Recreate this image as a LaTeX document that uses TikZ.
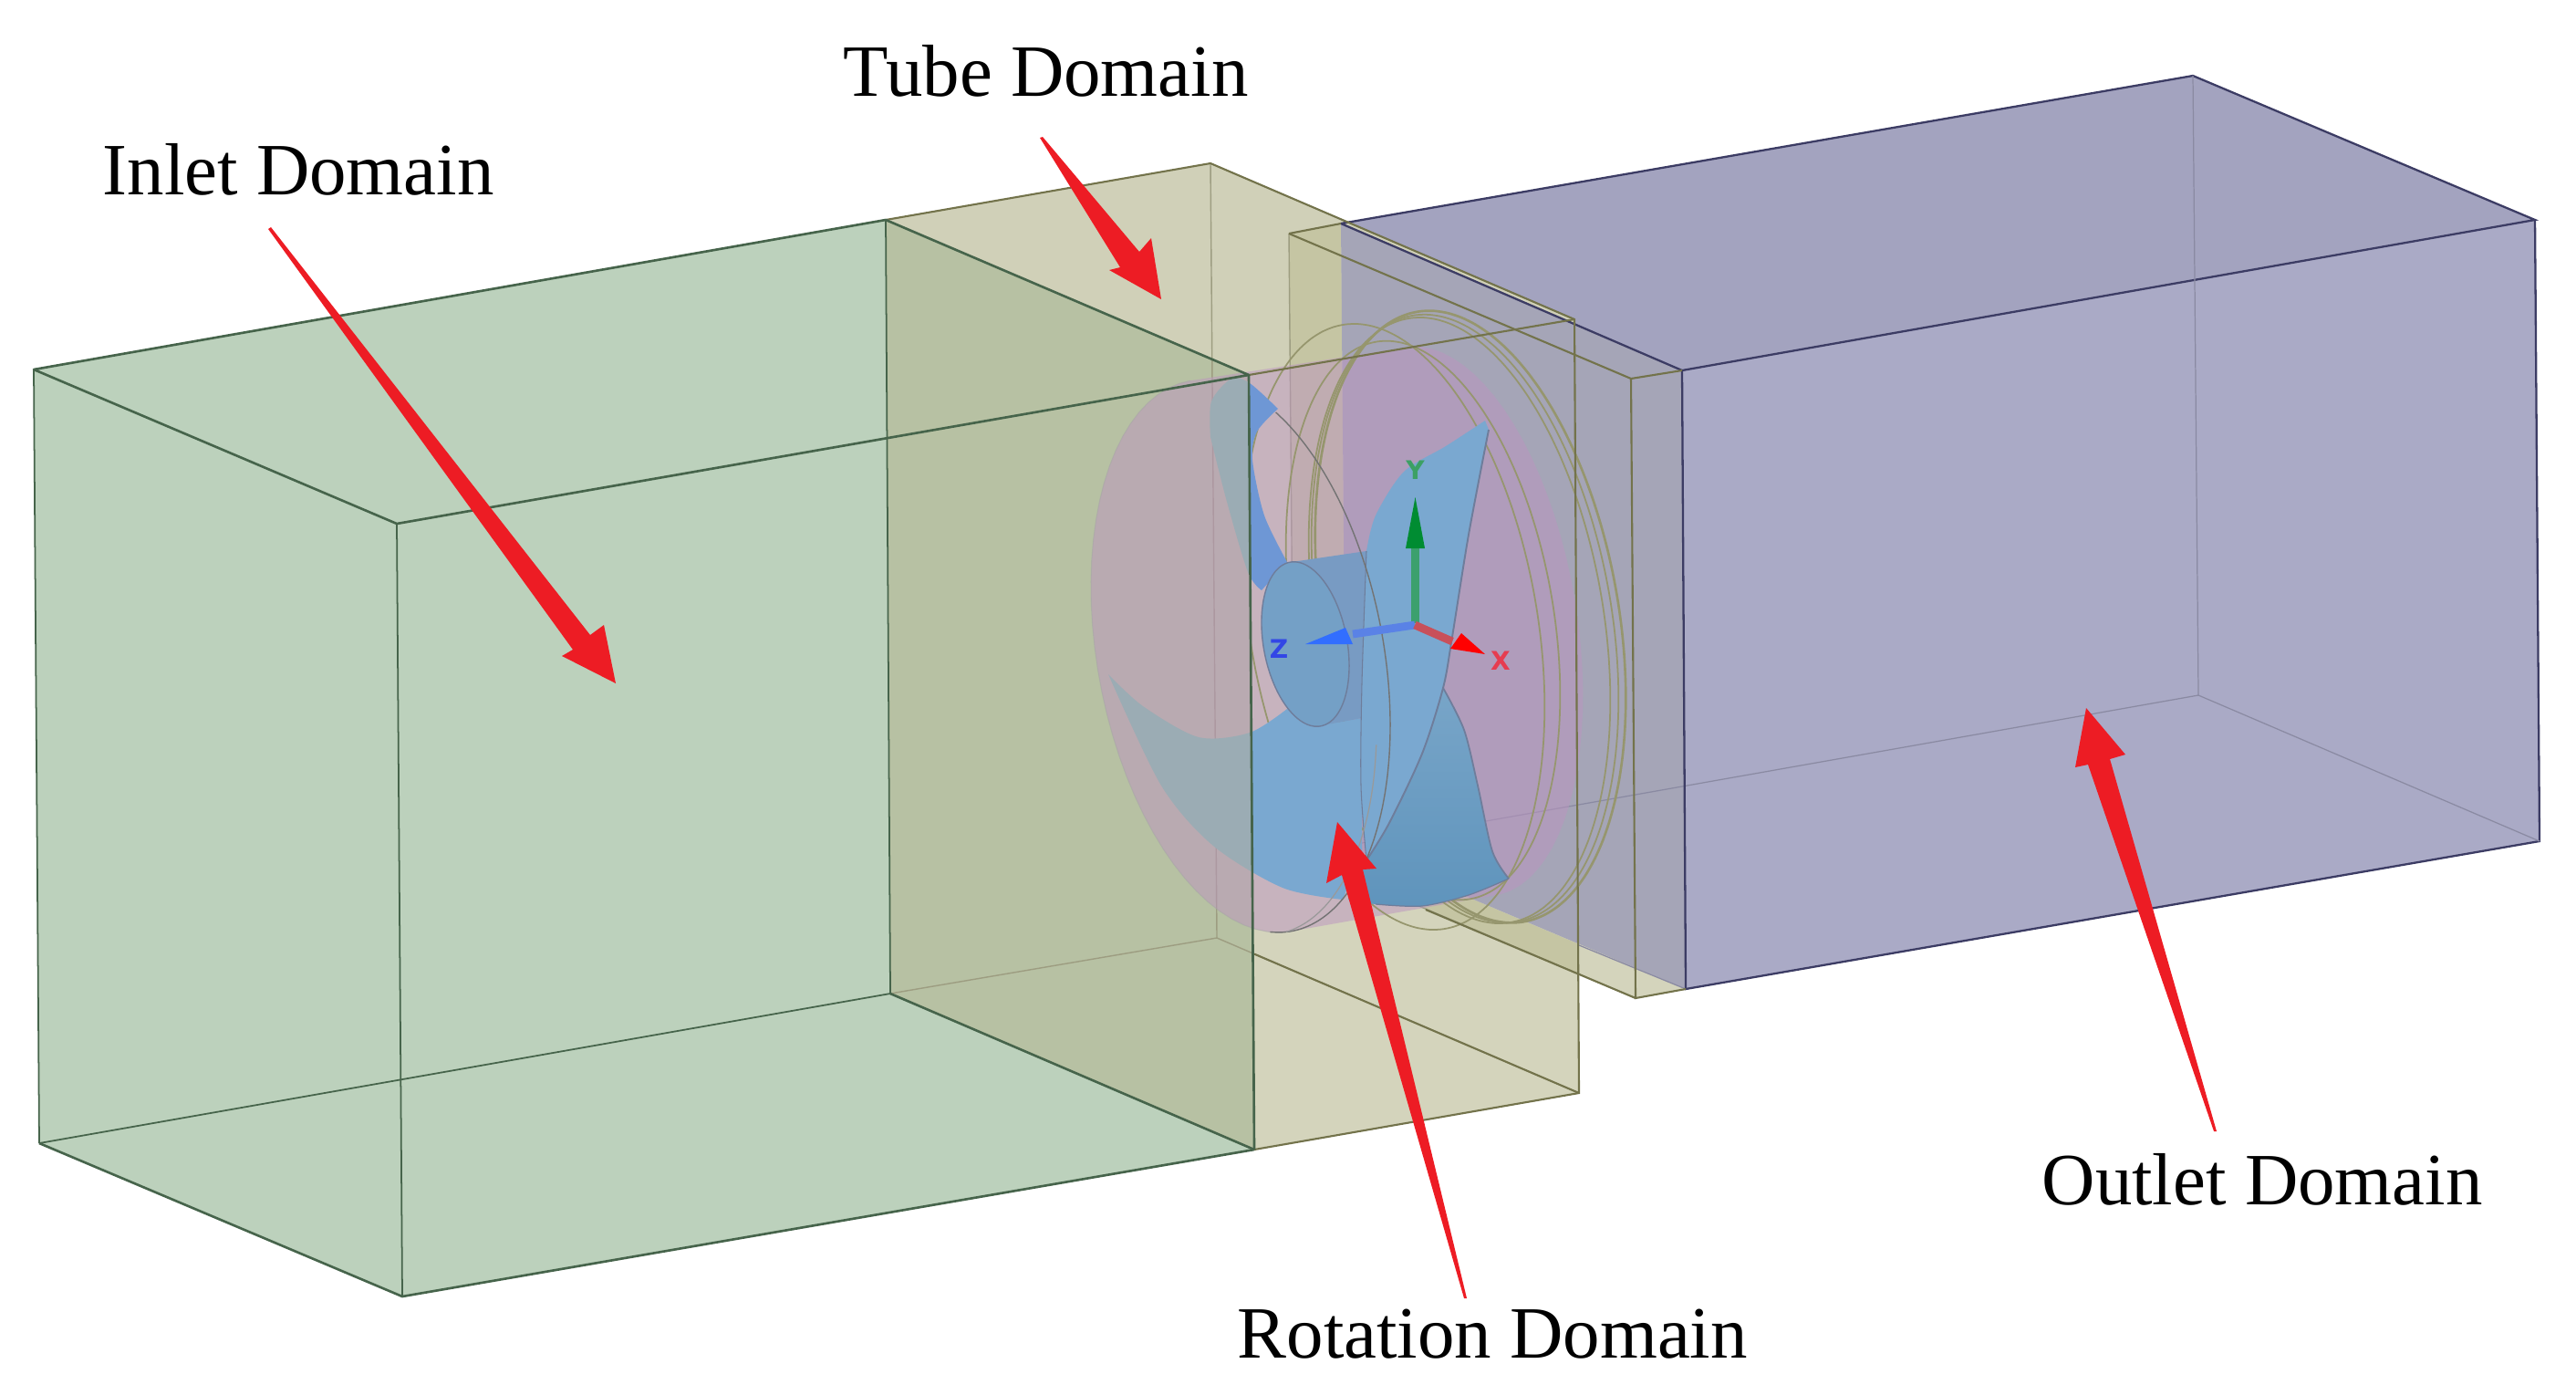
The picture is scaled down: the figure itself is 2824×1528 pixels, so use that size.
\documentclass[tikz,border=0pt]{standalone}
\usepackage{fontspec}
\setmainfont{Liberation Serif}
\setsansfont{DejaVu Sans}
\definecolor{inF}{RGB}{188,209,188}
\definecolor{inT}{RGB}{183,193,163}
\definecolor{tuF}{RGB}{212,212,188}
\definecolor{tuTop}{RGB}{208,208,184}
\definecolor{tuR}{RGB}{197,197,163}
\definecolor{ouF}{RGB}{170,170,198}
\definecolor{ouB}{RGB}{163,163,191}
\definecolor{ouR}{RGB}{165,165,183}
\definecolor{inL}{RGB}{70,100,75}
\definecolor{tuL}{RGB}{115,115,75}
\definecolor{ouL}{RGB}{60,60,100}
\definecolor{ringL}{RGB}{150,150,110}
\definecolor{pinkF}{RGB}{188,148,192}
\definecolor{bladeB}{RGB}{122,168,208}
\definecolor{bladeT}{RGB}{120,165,200}
\definecolor{bladeD}{RGB}{95,148,188}
\definecolor{bladeG}{RGB}{155,172,180}
\definecolor{hubS}{RGB}{120,155,195}
\definecolor{bladeL}{RGB}{110,125,155}
\definecolor{arrowR}{RGB}{237,28,36}
\definecolor{axYs}{RGB}{60,160,110}
\definecolor{axYc}{RGB}{0,140,50}
\definecolor{axZs}{RGB}{90,130,230}
\definecolor{axZc}{RGB}{50,110,255}
\definecolor{axXs}{RGB}{200,80,90}
\definecolor{axYt}{RGB}{60,160,100}
\definecolor{axZt}{RGB}{50,70,230}
\definecolor{axXt}{RGB}{230,60,80}
\tikzset{
  inEdge/.style={draw=inL,line width=.75pt,line join=round},
  inEdgeF/.style={draw=inL,line width=.5pt},
  tuEdge/.style={draw=tuL,line width=.6pt},
  tuEdgeF/.style={draw=tuL!70,line width=.4pt},
  ouEdge/.style={draw=ouL,line width=.65pt},
  ouEdgeF/.style={draw=ouL!60,line width=.35pt},
  ringLine/.style={draw=ringL,line width=.5pt},
  redArrow/.style={fill=arrowR,draw=none},
  domainLabel/.style={anchor=base west,inner sep=0pt,font=\fontsize{23}{24}\selectfont},
  axisLabel/.style={inner sep=0pt,font=\sffamily\bfseries\fontsize{8}{8}\selectfont},
}
\newcommand{\ellipseplot}[7][]{\draw[#1] plot[smooth cycle,domain=0:355,samples=72,variable=\t]
  ({#2+#4*cos(\t)+#6*sin(\t)},{#3+#5*cos(\t)+#7*sin(\t)});}
\newcommand{\bladeCpath}{plot[smooth] coordinates {(1215,739) (1253,774) (1314,808) (1370,803) (1411,777)}
  -- (1447,795) -- (1493,787) -- (1493,933) -- (1472,986)
  -- plot[smooth] coordinates {(1472,986) (1406,973) (1330,927) (1273,861) (1215,739)} -- cycle}
\newcommand{\bladeDpath}{plot[smooth] coordinates {(1327,479) (1328,440) (1350,415) (1370,420) (1401,448)}
  -- plot[smooth] coordinates {(1401,448) (1378,473) (1373,504) (1386,565) (1411,616)}
  -- (1383,647) -- plot[smooth] coordinates {(1383,647) (1368,627) (1345,550) (1327,479)} -- cycle}
\begin{document}
\begin{tikzpicture}[x=0.1mm,y=-0.1mm]
\useasboundingbox (0,0) rectangle (2824,1528);
% corners
\coordinate (iA) at (37,405); \coordinate (iB) at (971,241); \coordinate (iC) at (1369,411); \coordinate (iD) at (435,574);
\coordinate (iE) at (43,1253); \coordinate (iF) at (976,1089); \coordinate (iG) at (1375,1260); \coordinate (iH) at (441,1421);
\coordinate (tB) at (1327,179); \coordinate (tC) at (1726,350); \coordinate (tF) at (1334,1028); \coordinate (tG) at (1731,1198);
\coordinate (oA) at (1470,245); \coordinate (oB) at (2404,83); \coordinate (oC) at (2779,241); \coordinate (oD) at (1844,406);
\coordinate (oE) at (1476,927); \coordinate (oF) at (2410,762); \coordinate (oG) at (2784,922); \coordinate (oH) at (1848,1084);
\coordinate (rA) at (1413,256); \coordinate (rD) at (1788,415); \coordinate (rE) at (1419,935); \coordinate (rH) at (1793,1094);
% outlet
\fill[ouB] (oA)--(oB)--(oC)--(oG)--(oH)--(oE)--cycle;
\fill[ouF] (oD)--(oC)--(oG)--(oH)--cycle;
% rotation box and tube
\fill[tuF] (rA)--(oA)--(oD)--(oH)--(rH)--(rE)--cycle;
\fill[tuF] (iB)--(tB)--(tC)--(tG)--(iG)--(iF)--cycle;
\fill[tuTop] (iB)--(tB)--(tC)--(iC)--cycle;
\fill[tuR] (rA)--(oA)--(oE)--(1731,1035)--(1731,1068)--(rE)--cycle;
\fill[ouR] (oA)--(oD)--(oH)--(oE)--cycle;
% inlet
\fill[inF] (iA)--(iB)--(iC)--(iG)--(iH)--(iE)--cycle;
\fill[inT] (iB)--(iC)--(iG)--(iF)--cycle;
% hidden edges, seen through the cylinder
\draw[ouEdgeF] (oE)--(oF);
\draw[tuEdgeF] (rA)--(rE);
\draw[tuEdgeF] (rE)--(rH);
\draw[tuEdgeF] (tB)--(tF);
\draw[tuEdgeF] (iF)--(tF);
\draw[tuEdgeF] (tF)--(tG);
% rotation cylinder
\fill[pinkF,fill opacity=.5]
  plot[domain=71.7:251.7,samples=40,variable=\t] ({1360+164*cos(\t)+4*sin(\t)},{719+69*cos(\t)+295*sin(\t)})
  -- plot[domain=251.7:431.7,samples=40,variable=\t] ({1590+145*cos(\t)+10*sin(\t)},{681+61*cos(\t)+295*sin(\t)})
  -- cycle;
\draw[draw=black!35,draw opacity=.5,line width=.3pt]
  plot[domain=71.7:251.7,samples=40,variable=\t] ({1360+164*cos(\t)+4*sin(\t)},{719+69*cos(\t)+295*sin(\t)});
% rings
\begin{scope}
\clip (1369,300)--(1900,300)--(1900,1100)--(1374,1100)--cycle;
\ellipseplot[ringLine]{1528}{687}{165}{68}{10}{325}
\ellipseplot[ringLine]{1560}{680}{150}{62}{10}{300}
\ellipseplot[ringLine]{1600}{680}{165}{68}{10}{325}
\ellipseplot[ringLine,line width=.75pt]{1612}{676}{170}{70}{10}{328}
\ellipseplot[ringLine]{1606}{678}{168}{69}{10}{326}
\end{scope}
% blades
\shade[top color=bladeT,bottom color=bladeD] (1498,943)
  -- plot[smooth] coordinates {(1582,754) (1605,800) (1620,861) (1636,933) (1654,963)}
  -- plot[smooth] coordinates {(1654,963) (1610,981) (1559,993) (1508,991) (1478,986)} -- cycle;
\draw[bladeL,line width=.5pt] plot[smooth] coordinates {(1582,754) (1605,800) (1620,861) (1636,933) (1654,963)};
\draw[bladeL,line width=.35pt] plot[smooth] coordinates {(1654,963) (1610,981) (1559,993) (1508,991)};
\begin{scope}
  \clip (1369,300)--(1800,300)--(1800,1300)--(1375,1300)--cycle;
  \fill[bladeB] \bladeCpath;
  \fill[bladeB!90!blue] \bladeDpath;
\end{scope}
\begin{scope}
  \clip (1000,300)--(1369,300)--(1375,1300)--(1000,1300)--cycle;
  \fill[bladeG] \bladeCpath;
  \fill[bladeG] \bladeDpath;
\end{scope}
\fill[hubS] (1416,616)--(1498,604)--(1493,787)--(1444,796)--cycle;
\fill[bladeB]
  plot[smooth] coordinates {(1498,604) (1508,565) (1539,517) (1585,489) (1628,461)} -- (1632,471)
  -- plot[smooth] coordinates {(1632,471) (1610,586) (1592,698) (1582,754) (1559,826) (1523,902) (1498,943)}
  -- plot[smooth] coordinates {(1498,943) (1492,861) (1493,749) (1498,604)} -- cycle;
\draw[bladeL,line width=.55pt] plot[smooth] coordinates {(1632,471) (1610,586) (1592,698) (1582,754) (1559,826) (1523,902) (1498,943)};
\draw[bladeL,line width=.3pt] plot[smooth] coordinates {(1498,943) (1492,861) (1493,749) (1498,604)};
\ellipseplot[fill=bladeB!95!black,draw=bladeL,line width=.4pt]{1431}{706}{48}{20}{2}{88}
% front rim arc
\draw[draw=black!55,line width=.4pt] plot[smooth,domain=-75:80,samples=40,variable=\t]
  ({1360+164*cos(\t)+4*sin(\t)},{719+69*cos(\t)+295*sin(\t)});
\draw[draw=black!40,line width=.35pt] plot[smooth,domain=5:68,samples=24,variable=\t]
  ({1345+164*cos(\t)+4*sin(\t)},{722+69*cos(\t)+295*sin(\t)});
% triad
\draw[draw=axYs,line width=2.5pt] (1551.5,683)--(1551.5,601);
\fill[axYc] (1541,601)--(1551.5,545)--(1562,601)--cycle;
\draw[draw=axZs,line width=2.5pt] (1551,685)--(1483,695);
\fill[axZc] (1475,688)--(1431,706)--(1483,706)--cycle;
\draw[draw=axXs,line width=2.5pt] (1551,685)--(1592,703);
\fill[red] (1590,711)--(1602,694)--(1628,717)--cycle;
\node[axisLabel,text=axYt] (axY) at (1551.5,515) {Y};
\node[axisLabel,text=axZt] (axZ) at (1402,711) {Z};
\node[axisLabel,text=axXt] (axX) at (1645,724) {X};
% outlet edges
\draw[ouEdge] (oA)--(oB)--(oC)--(oD)--(oA);
\draw[ouEdge] (oD)--(oH)--(oG)--(oC);
\draw[ouEdgeF] (oB)--(oF)--(oG);
\draw[ouEdgeF] (1731,1036)--(oH);
% rotation box edges
\draw[tuEdge] (rA)--(oA);
\draw[tuEdge] (rA)--(rD)--(oD);
\draw[tuEdge] (rD)--(rH)--(oH);
\draw[tuEdge] (1563,997)--(rH);
% tube edges
\draw[tuEdge] (iB)--(tB)--(tC)--(tG)--(iG);
\draw[tuEdge] (iC)--(tC);
\draw[tuEdge] (1375,1045.6)--(tG);
% inlet edges
\draw[inEdge] (iA)--(iB)--(iC)--(iD)--cycle;
\draw[inEdge] (iE)--(iH)--(iG);
\draw[inEdge] (iC)--(iG);
\draw[inEdge] (iF)--(iG);
\draw[inEdgeF] (iA)--(iE);
\draw[inEdgeF] (iD)--(iH);
\draw[inEdgeF] (iB)--(iF);
\draw[inEdgeF] (iE)--(iF);
% arrows
\fill[redArrow] (294,251)--(297,249)--(647,696)--(662,685)--(675,749)--(616,719)--(628,712)--cycle;
\fill[redArrow] (1140,151)--(1143,150)--(1249,276)--(1262,261)--(1273,328)--(1216,296)--(1228,293)--cycle;
\fill[redArrow] (1605,1423)--(1608,1423)--(1494,953)--(1509,952)--(1466,901)--(1454,968)--(1471,959)--cycle;
\fill[redArrow] (2427,1240)--(2430,1240)--(2313,832)--(2330,827)--(2287,776)--(2275,841)--(2289,838)--cycle;
% labels
\node[domainLabel] (inletLabel) at (112,213) {Inlet Domain};
\node[domainLabel] (tubeLabel) at (924,105) {Tube Domain};
\node[domainLabel] (outletLabel) at (2238,1320) {Outlet Domain};
\node[domainLabel] (rotationLabel) at (1356,1488) {Rotation Domain};
\end{tikzpicture}
\end{document}
